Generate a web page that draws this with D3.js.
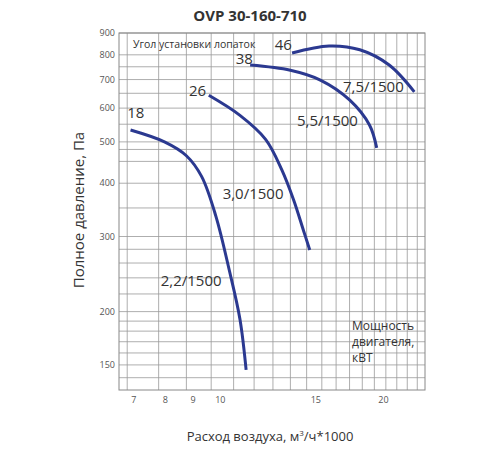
<!DOCTYPE html><html><head><meta charset="utf-8"><script src="https://cdn.jsdelivr.net/npm/d3@7"></script>
<style>body{margin:0;background:#fff}text{font-family:"Open Sans",sans-serif}</style></head><body><svg id="c" width="500" height="450"></svg><script>
const xTicks=[7,8,9,10,15,20];
const yTicks=[150,200,300,400,500,600,700,800,900];
const xGrid=[7,8,9,10,11,12,13,14,15,16,17,18,19,20,21,22,23,24];
const yGrid=[140,150,160,170,180,190,200,220,240,260,280,300,350,400,450,480,500,550,600,650,700,750,800,900];
const c18=[[7.1,533],[8.2,500],[9.0,464],[9.6,415],[10.2,335],[10.8,250],[11.3,192],[11.6,146]];
const c26=[[9.9,643],[11.3,577],[12.6,507],[13.5,430],[14.2,365],[14.8,310],[15.2,279]];
const c38=[[11.8,757],[14.0,736],[15.9,698],[18.0,627],[19.6,547],[20.2,484]];
const c46=[[14.1,808],[16.5,839],[18.8,822],[21.3,757],[23.7,655]];
const angles=[["18",7.0,570],["26",9.1,640],["38",11.1,761],["46",13.1,820]];
const powers=[["7,5/1500",17.5,655],["5,5/1500",14.4,545],["3,0/1500",10.5,368],["2,2/1500",8.07,230]];
const svg=d3.select("#c");
const x=d3.scaleLog().domain([6.76,24.8]).range([119,425]);
const y=d3.scaleLog().domain([131,900]).range([390,33]);
const g=svg.append("g");
g.selectAll("line.vx").data(xGrid).join("line").attr("class","vx").attr("x1",d=>x(d)).attr("x2",d=>x(d)).attr("y1",33).attr("y2",390).attr("stroke","#999").attr("stroke-width",0.8);
g.selectAll("line.hy").data(yGrid).join("line").attr("class","hy").attr("y1",d=>y(d)).attr("y2",d=>y(d)).attr("x1",119).attr("x2",425).attr("stroke","#999").attr("stroke-width",0.8);
g.append("rect").attr("x",119).attr("y",33).attr("width",306).attr("height",357).attr("fill","none").attr("stroke","#888");
g.selectAll("text.tx").data(xTicks).join("text").attr("class","tx").attr("x",d=>x(d)+4).attr("y",403).attr("font-size",9).attr("fill","#555").text(d=>String(d));
g.selectAll("text.ty").data(yTicks).join("text").attr("class","ty").attr("x",115).attr("y",d=>y(d)+3).attr("text-anchor","end").attr("font-size",9).attr("fill","#555").text(d=>String(d));
const line=d3.line().x(d=>x(d[0])).y(d=>y(d[1])).curve(d3.curveCatmullRom);
[c18,c26,c38,c46].forEach(c=>svg.append("path").attr("d",line(c)).attr("fill","none").attr("stroke","#2b3990").attr("stroke-width",3));
svg.selectAll("text.an").data(angles).join("text").attr("class","an").attr("x",d=>x(d[1])).attr("y",d=>y(d[2])).attr("font-size",15).attr("fill","#333").text(d=>d[0]);
svg.selectAll("text.pw").data(powers).join("text").attr("class","pw").attr("x",d=>x(d[1])).attr("y",d=>y(d[2])).attr("font-size",15).attr("fill","#333").text(d=>d[0]);
svg.append("text").attr("x",250).attr("y",21).attr("text-anchor","middle").attr("font-size",15).attr("font-weight","bold").attr("fill","#333").text("OVP 30-160-710");
svg.append("text").attr("x",133).attr("y",48).attr("font-size",10.5).attr("fill","#333").text("Угол установки лопаток");
["Мощность","двигателя,","кВТ"].forEach((t,i)=>svg.append("text").attr("x",352).attr("y",330+i*16).attr("font-size",12).attr("fill","#333").text(t));
svg.append("text").attr("transform","translate(84,210) rotate(-90)").attr("text-anchor","middle").attr("font-size",15).attr("fill","#333").text("Полное давление, Па");
const xl=svg.append("text").attr("x",270).attr("y",441).attr("text-anchor","middle").attr("font-size",13).attr("fill","#333");
xl.append("tspan").text("Расход воздуха, м");xl.append("tspan").attr("dy",-5).attr("font-size",8).text("3");xl.append("tspan").attr("dy",5).text("/ч*1000");
</script></body></html>
